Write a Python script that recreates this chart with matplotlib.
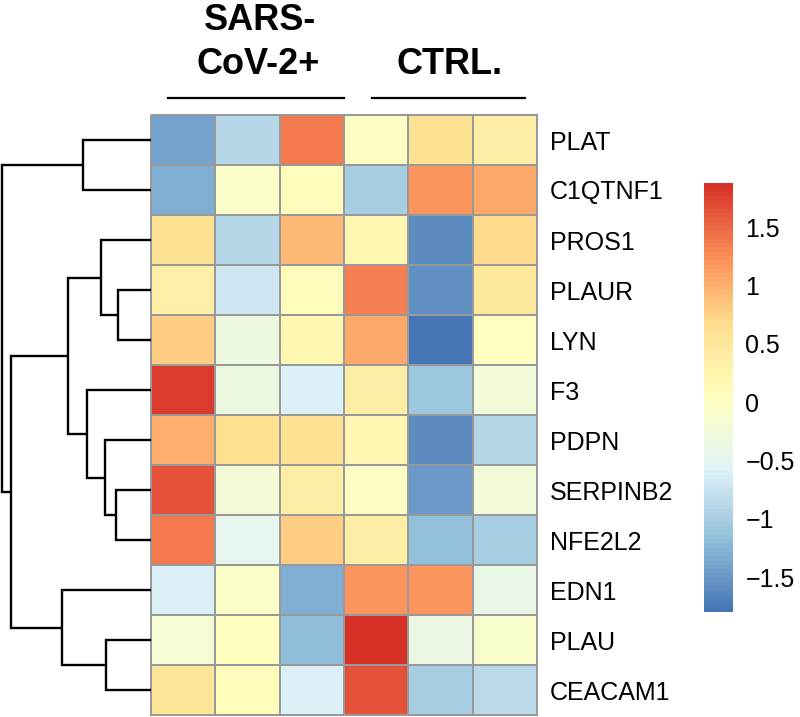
# -*- coding: utf-8 -*-

import numpy as np
import matplotlib
matplotlib.use("Agg")
import matplotlib.pyplot as plt
from matplotlib.colors import LinearSegmentedColormap, Normalize
from matplotlib.cm import ScalarMappable
from matplotlib.lines import Line2D

plt.rcParams['font.family'] = ['Liberation Sans', 'DejaVu Sans']

genes = ["PLAT", "C1QTNF1", "PROS1", "PLAUR", "LYN", "F3", "PDPN",
         "SERPINB2", "NFE2L2", "EDN1", "PLAU", "CEACAM1"]

# z-scores, rows = genes, columns = 3 SARS-CoV-2+ then 3 CTRL.
plat     = [-1.40, -0.90,  1.40, -0.02,  0.60,  0.40]
c1qtnf1  = [-1.30, -0.05,  0.10, -1.00,  1.20,  1.05]
pros1    = [ 0.60, -0.90,  0.95,  0.20, -1.60,  0.70]
plaur    = [ 0.35, -0.70,  0.10,  1.35, -1.55,  0.50]
lyn      = [ 0.80, -0.30,  0.20,  1.05, -1.80,  0.02]
f3       = [ 1.80, -0.30, -0.60,  0.40, -1.10, -0.25]
pdpn     = [ 1.00,  0.65,  0.60,  0.20, -1.60, -0.90]
serpinb2 = [ 1.65, -0.20,  0.40,  0.00, -1.50, -0.25]
nfe2l2   = [ 1.40, -0.45,  0.80,  0.40, -1.15, -1.00]
edn1     = [-0.60, -0.05, -1.30,  1.20,  1.20, -0.40]
plau     = [-0.15,  0.05, -1.20,  1.88, -0.35, -0.10]
ceacam1  = [ 0.55,  0.10, -0.60,  1.65, -1.00, -0.85]

values = np.array([plat, c1qtnf1, pros1, plaur, lyn, f3, pdpn,
                   serpinb2, nfe2l2, edn1, plau, ceacam1])

groups = ["SARS-\nCoV-2+", "CTRL."]

# row dendrogram: (node a, node b, height); leaves are 0..11, merges get 12, 13, ...
merges = [
    (0, 1, 68),
    (3, 4, 33),
    (2, 13, 50),
    (7, 8, 35),
    (6, 15, 46),
    (5, 16, 64),
    (14, 17, 83),
    (10, 11, 45),
    (9, 19, 89),
    (18, 20, 140),
    (12, 21, 149),
]

W, H = 800, 717
fig = plt.figure(figsize=(W / 100, H / 100), dpi=100)

def box(x0, y0, x1, y1):
    return [x0 / W, 1 - y1 / H, (x1 - x0) / W, (y1 - y0) / H]

nrow, ncol = values.shape

# heatmap
cmap = LinearSegmentedColormap.from_list(
    "rdylbu", ["#4575B4", "#91BFDB", "#E0F3F8", "#FFFFBF",
               "#FEE090", "#FC8D59", "#D73027"], N=100)
norm = Normalize(vmin=values.min(), vmax=values.max())

ax = fig.add_axes(box(151, 115, 537, 715))
mesh = ax.pcolormesh(np.arange(ncol + 1) - 0.5, np.arange(nrow + 1) - 0.5,
                     values, cmap=cmap, norm=norm,
                     edgecolors="#999999", linewidth=1.3)
mesh.set_clip_on(False)
ax.set_xlim(-0.5, ncol - 0.5)
ax.set_ylim(nrow - 0.5, -0.5)
ax.set_xticks([])
ax.yaxis.tick_right()
ax.set_yticks(range(nrow))
ax.set_yticklabels(genes, fontsize=18)
ax.tick_params(axis="y", length=0, pad=9)
for s in ax.spines.values():
    s.set_visible(False)

# dendrogram
dax = fig.add_axes(box(0, 115, 151, 715))
pos = {i: (float(i), 0.0) for i in range(nrow)}
for k, (a, b, h) in enumerate(merges):
    ya, ha = pos[a]
    yb, hb = pos[b]
    dax.plot([ha, h, h, hb], [ya, ya, yb, yb], color="black", lw=1.7,
             solid_joinstyle="miter", solid_capstyle="butt")
    pos[nrow + k] = ((ya + yb) / 2, h)
dax.set_xlim(151, 0)
dax.set_ylim(nrow - 0.5, -0.5)
dax.axis("off")

# column group headers
fig.text(260 / W, 1 - 20 / H, "SARS-", ha="center", va="center",
         fontsize=26, fontweight="bold")
fig.text(258 / W, 1 - 64 / H, "CoV-2+", ha="center", va="center",
         fontsize=26, fontweight="bold")
fig.text(450 / W, 1 - 64 / H, groups[1], ha="center", va="center",
         fontsize=26, fontweight="bold")
for x0, x1 in [(168, 344), (372, 525)]:
    fig.add_artist(Line2D([x0 / W, x1 / W], [1 - 98 / H, 1 - 98 / H],
                          color="black", lw=1.6))

# colorbar
cax = fig.add_axes(box(704, 183, 733, 612))
cb = fig.colorbar(ScalarMappable(norm=norm, cmap=cmap), cax=cax)
cb.outline.set_visible(False)
ticks = [-1.5, -1, -0.5, 0, 0.5, 1, 1.5]
cb.set_ticks(ticks)
cb.set_ticklabels(["\u22121.5", "\u22121", "\u22120.5", "0", "0.5", "1", "1.5"])
cax.tick_params(length=0, pad=9, labelsize=18)

fig.savefig("out.png", dpi=100)
